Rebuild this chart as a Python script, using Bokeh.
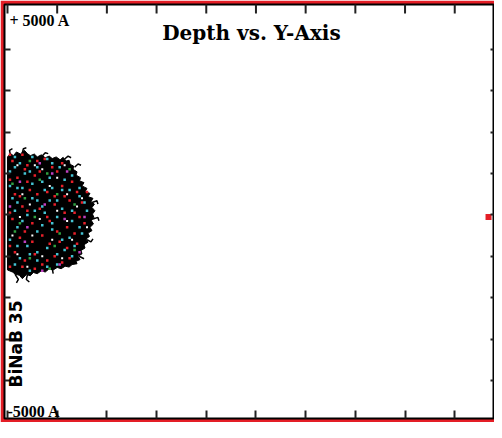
import math
from bokeh.plotting import figure
from bokeh.models import Range1d, FixedTicker, LinearAxis, Label, CustomJSTickFormatter
from bokeh.embed import file_html
from bokeh.resources import INLINE

# ---------------- data (Angstrom) ----------------
title_text = "Depth vs. Y-Axis"
top_label = "+ 5000 A"
bottom_label = "-5000 A"
side_label = "BiNaB 35"

depth_ticks = [0, 1000, 2000, 3000, 4000, 5000, 6000, 7000, 8000, 9000]
lateral_ticks = [-4000, -3000, -2000, -1000, 0, 1000, 2000, 3000, 4000]

# outline of the dense cloud of ion tracks (depth, lateral)
cloud_x = [0, 60, 120, 180, 260, 340, 400, 460, 540, 600, 680, 760, 840, 900, 980, 1060, 1120, 1180,
           1240, 1260, 1330, 1320, 1400, 1380, 1470, 1450, 1540, 1500, 1600, 1560, 1660, 1620, 1720,
           1680, 1750, 1700, 1760, 1710, 1740, 1690, 1730, 1660, 1700, 1620, 1650, 1580, 1620, 1540,
           1560, 1480, 1500, 1420, 1460, 1380, 1400, 1300, 1240, 1160, 1080, 1000, 920, 840, 760, 680,
           600, 520, 460, 380, 300, 240, 160, 100, 40, 0]
cloud_y = [1400, 1480, 1430, 1520, 1470, 1560, 1480, 1430, 1470, 1400, 1450, 1380, 1420, 1360, 1400,
           1330, 1390, 1300, 1320, 1220, 1180, 1100, 1040, 960, 900, 820, 780, 700, 640, 560, 520, 440,
           400, 320, 260, 180, 100, 20, -60, -140, -220, -300, -380, -440, -520, -580, -660, -720, -800,
           -860, -940, -1000, -1080, -1120, -1180, -1200, -1260, -1240, -1300, -1270, -1330, -1300,
           -1380, -1350, -1420, -1390, -1470, -1440, -1540, -1460, -1430, -1380, -1350, -1330]

# stray track ends sticking out of the cloud
stray_xs = [[300, 320, 380], [700, 760, 820], [1150, 1220, 1280], [1700, 1800, 1820],
            [1720, 1820, 1840], [1600, 1680, 1720], [1440, 1540], [1350, 1420, 1480],
            [400, 380, 440], [900, 920], [150, 220, 180], [60, 40, 100]]
stray_ys = [[1500, 1600, 1620], [1420, 1500, 1480], [1350, 1420, 1380], [300, 340, 260],
            [-100, -60, -140], [-600, -650, -580], [-1000, -1060], [1150, 1230, 1200],
            [-1450, -1560, -1620], [-1300, -1420], [-1430, -1560, -1640], [1450, 1560, 1600]]

red_x = [100, 400, 750, 200, 550, 1000, 1300, 150, 450, 800, 1150, 1500, 300, 650, 950, 1350, 100, 500,
         850, 1200, 1550, 250, 700, 1050, 1400, 150, 550, 950, 300, 700, 1250, 1600,
         50, 300, 600, 900, 1100, 350, 650, 50, 400, 1100, 1400, 250, 600, 950, 1250, 50, 400, 800,
         1150, 1450, 350, 1000, 1350, 50, 500, 850, 1200, 350, 800, 1100, 50, 550]
red_y = [1300, 1200, 1350, 900, 950, 1050, 800, 500, 600, 550, 450, 300, 200, 150, 250, 50, -100, -200,
         -150, -300, -200, -550, -500, -650, -700, -900, -950, -1000, -1250, -1200, -1050, 550,
         1450, 1450, 1300, 1150, 1250, 1100, 1050, 850, 800, 700, 550, 450, 500, 450, 350, 50, 100, -50,
         50, -50, -400, -400, -450, -750, -650, -700, -800, -1100, -1100, -1150, -1250, -1300]

cyan_x = [250, 600, 900, 50, 350, 700, 1150, 1450, 50, 300, 600, 900, 1250, 200, 500, 850, 1100, 1450,
          400, 750, 1000, 1300, 1600, 200, 600, 900, 1250, 1500, 50, 400, 800, 1150, 250, 600, 1000, 450,
          150, 500, 800, 1050, 150, 450, 850, 1300, 200, 500, 750, 1100, 1550, 100, 700, 1000, 1300,
          150, 550, 900, 1450, 300, 700, 1100, 1350, 200, 600, 1000, 1300, 150, 800, 450]
cyan_y = [1250, 1150, 1250, 1050, 1000, 800, 850, 650, 700, 650, 350, 650, 600, 300, 400, 350, 150, 450,
          0, 50, -50, -150, 100, -300, -400, -350, -550, -450, -600, -750, -800, -850, -1050, -1100,
          -1200, -1350,
          1400, 1400, 1350, 1150, 1150, 1050, 900, 950, 650, 750, 600, 600, 300, 400, 200, 350, 100,
          100, 100, -200, -300, -150, -250, -600, -750, -750, -900, -950, -1000, -1200, -1250, -950]

green_x = [450, 800, 100, 1000, 350, 1350, 550, 150, 1050, 450, 850, 1350, 650, 1250, 250, 950]
green_y = [1300, 1000, 750, 500, 400, 250, -50, -400, -450, -1050, -1300, -850, 850, 1100, -200, -750]

magenta_x = [650, 1200, 250, 750, 1150, 350, 1450, 700, 50, 1550, 900, 400, 1050]
magenta_y = [1250, 1050, 800, 250, -100, -650, -900, -1350, 200, -50, 1000, -300, -1200]

gap_x = [200, 700, 1000, 300, 850, 1200, 450, 1000, 1400, 250, 650, 1200, 500, 900, 1300, 200, 700,
         1100, 400, 1500, 1600, 1150, 550, 100]
gap_y = [1200, 1100, 900, 500, 700, 500, 250, 100, 200, -50, -100, -150, -500, -600, -600, -950,
         -1000, -1050, -1250, 400, -300, 1200, 1200, -500]

end_marker_x = [9680]
end_marker_y = [-50]

# ---------------- figure ----------------
RED = "#e41e26"
Y_TOP = 5082
Y_BOTTOM = -4918

p = figure(width=494, height=422, title=None,
           x_range=Range1d(-60, 9780), y_range=Range1d(Y_BOTTOM, Y_TOP),
           output_backend="svg", toolbar_location=None,
           min_border_left=4, min_border_top=4, min_border_bottom=4, min_border_right=1)
p.border_fill_color = RED
p.background_fill_color = "white"
p.outline_line_color = "black"
p.outline_line_width = 2
p.xgrid.visible = False
p.ygrid.visible = False

p.add_layout(LinearAxis(), "right")


def style_axis(ax, ticks, tick_in):
    ax.ticker = FixedTicker(ticks=ticks)
    ax.formatter = CustomJSTickFormatter(code="return ''")
    ax.major_tick_in = tick_in
    ax.major_tick_out = 0
    ax.minor_tick_in = 0
    ax.minor_tick_out = 0
    ax.major_label_text_font_size = "0px"
    ax.major_label_standoff = 0
    ax.axis_line_color = None
    ax.major_tick_line_color = "#222222"
    ax.major_tick_line_width = 2


style_axis(p.below[0], depth_ticks, 8)
style_axis(p.left[0], lateral_ticks, 6)
style_axis(p.right[0], lateral_ticks, 3)

# top-edge ticks (same depth ticks, pointing down from the top edge)
p.scatter(depth_ticks, [Y_TOP] * len(depth_ticks), marker="dash", angle=math.pi / 2,
          size=18, line_color="#222222", line_width=2)

# cloud of tracks
p.patch(cloud_x, cloud_y, fill_color="black", line_color="black", line_width=1)
p.multi_line(stray_xs, stray_ys, line_color="black", line_width=1.5)
p.scatter(gap_x, gap_y, marker="square", size=2, color="white", line_width=0)
p.scatter(red_x, red_y, marker="square", size=2.5, color="#e8202a", line_width=0)
p.scatter(cyan_x, cyan_y, marker="square", size=2.5, color="#45c3d3", line_width=0)
p.scatter(green_x, green_y, marker="square", size=2.5, color="#30a040", line_width=0)
p.scatter(magenta_x, magenta_y, marker="square", size=2.5, color="#c040c0", line_width=0)

p.scatter(end_marker_x, end_marker_y, marker="square", size=6, color=RED, line_width=0)

# texts
p.add_layout(Label(x=4910, y=4400, text=title_text, text_font="DejaVu Serif", text_font_style="bold",
                   text_font_size="20px", text_align="center", text_baseline="alphabetic",
                   text_color="black"))
p.add_layout(Label(x=40, y=4900, text=top_label, text_font="Liberation Serif", text_font_style="bold",
                   text_font_size="16px", text_align="left", text_baseline="top", text_color="black"))
p.add_layout(Label(x=0, y=-4760, text=bottom_label, text_font="Liberation Serif", text_font_style="bold",
                   text_font_size="16px", text_align="left", text_baseline="alphabetic",
                   text_color="black"))
p.add_layout(Label(x=170, y=-4170, text=side_label, text_font="DejaVu Sans", text_font_style="bold",
                   text_font_size="17px", text_align="left", text_baseline="middle",
                   angle=math.pi / 2, text_color="black"))

open("out.html", "w").write(file_html(p, INLINE))
